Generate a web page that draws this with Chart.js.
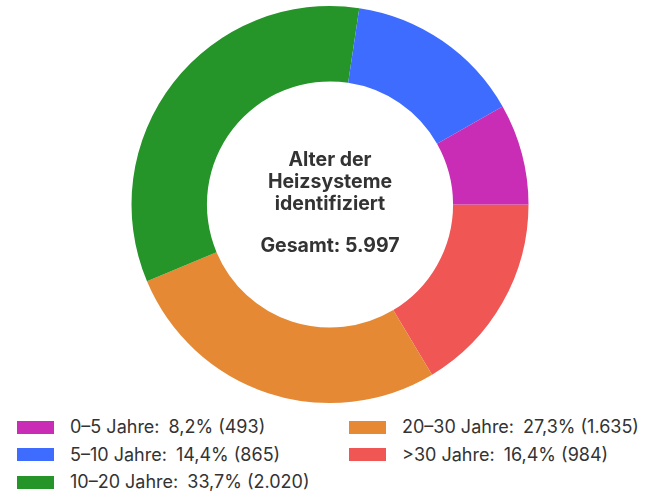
<!DOCTYPE html>
<html>
<head>
<meta charset="utf-8">
<script src="https://cdn.jsdelivr.net/npm/chart.js@4"></script>
<style>
  body { margin: 0; background: #fff; font-family: "Inter", sans-serif; color: #333; }
  #wrap { position: relative; width: 657px; height: 410px; }
  #legend { position: absolute; top: 416px; left: 0; width: 657px; }
  .item { position: absolute; display: flex; align-items: center; font-size: 18px; line-height: 22px; white-space: pre; }
  .sw { width: 37px; height: 13px; margin-right: 16px; }
  .val { margin-left: 9px; }
</style>
</head>
<body>
<div id="wrap"><canvas id="donut" width="657" height="410"></canvas></div>
<div id="legend"></div>
<script>
const categories = ["0–5 Jahre", "5–10 Jahre", "10–20 Jahre", "20–30 Jahre", ">30 Jahre"];
const counts = [493, 865, 2020, 1635, 984];
const percents = ["8,2%", "14,4%", "33,7%", "27,3%", "16,4%"];
const colors = ["#c92db5", "#3e6cff", "#259529", "#e58934", "#f05654"];
const total = "5.997";

// Legend: left column three rows, right column two
const legend = document.getElementById("legend");
categories.forEach((name, i) => {
  const col = i < 3 ? 0 : 1;
  const row = i < 3 ? i : i - 3;
  const el = document.createElement("div");
  el.className = "item";
  el.style.left = (col ? 349 : 17) + "px";
  el.style.top = (row * 27.5) + "px";
  el.innerHTML = '<span class="sw" style="background:' + colors[i] + '"></span>' +
    name + ':<span class="val">' + percents[i] + " (" + counts[i].toLocaleString("de-DE") + ")</span>";
  legend.appendChild(el);
});

const centerText = {
  id: "centerText",
  afterDraw(chart) {
    const { ctx } = chart;
    const arc = chart.getDatasetMeta(0).data[0];
    const x = arc.x, y = arc.y;
    ctx.save();
    ctx.fillStyle = "#333";
    ctx.font = "bold 19.5px Inter, sans-serif";
    ctx.textAlign = "center";
    ctx.textBaseline = "middle";
    ctx.fillText("Alter der", x, y - 44);
    ctx.fillText("Heizsysteme", x, y - 22);
    ctx.fillText("identifiziert", x, y);
    ctx.fillText("Gesamt: " + total, x, y + 42);
    ctx.restore();
  }
};

// slices run counter-clockwise from 3 o'clock, so feed them reversed
new Chart(document.getElementById("donut"), {
  type: "doughnut",
  data: {
    labels: categories.slice().reverse(),
    datasets: [{
      data: counts.slice().reverse(),
      backgroundColor: colors.slice().reverse(),
      borderWidth: 0
    }]
  },
  options: {
    responsive: false,
    animation: false,
    rotation: 90,
    cutout: "62%",
    layout: { padding: { top: 6, bottom: 7, left: 3, right: 0 } },
    plugins: { legend: { display: false }, tooltip: { enabled: false } }
  },
  plugins: [centerText]
});
</script>
</body>
</html>
